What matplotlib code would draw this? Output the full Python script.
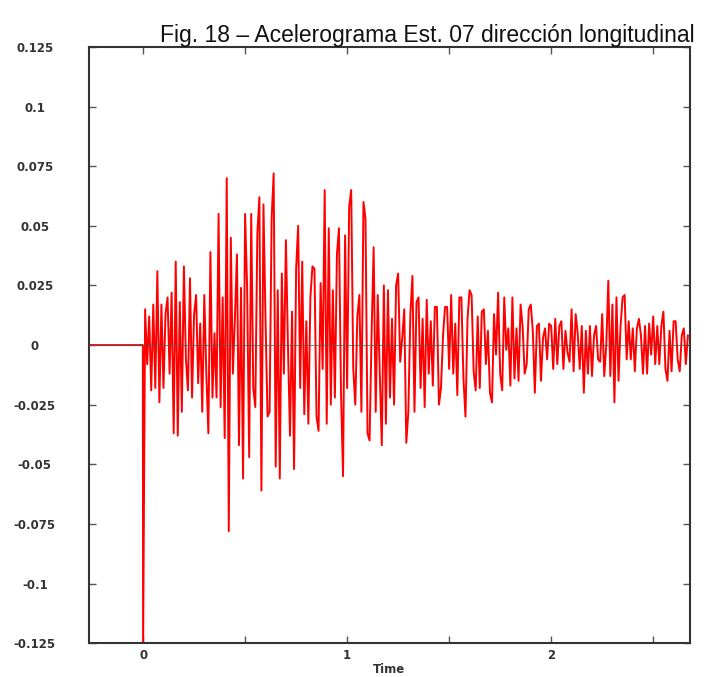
import numpy as np
import matplotlib.pyplot as plt

# sample step of the record (s)
dt = 0.01

# acceleration, in thousandths (0.001 units), from t = 0
acc_milli = [
    # 0.00 - 0.53
    -130, 15, -8, 12, -19, 17, -18, 31, -24, 17, -18, 13, 20, -12, 22, -37, 35, -38,
    18, -28, 33, -6, -19, 28, -22, 13, 21, -16, 9, -28, 21, -12, -37, 39, -22, 5,
    -22, 55, -26, 20, -39, 70, -78, 45, -12, 11, 38, -42, 24, -56, 55, 24, -47, 55,
    # 0.54 - 1.08
    -18, -26, 47, 62, -61, 59, 11, -30, -28, 53, 72, -51, 23, -56, 30, -12, 44, 0,
    -38, 14, -52, 32, 50, -18, 35, -29, 10, -33, 20, 33, 32, -30, -36, 26, -10, 65,
    -33, 49, -25, 23, -22, 38, 49, -20, -55, 46, -18, 58, 65, -10, -25, 12, 21, -28,
    60,
    # 1.09 - 1.65
    53, -37, -40, 5, 41, -28, 21, -12, -42, 25, -33, 23, -22, 11, -25, 25, 30, -7,
    3, 15, -41, -28, 13, 29, -28, 18, 20, -18, 11, -26, 19, -12, 10, -17, 16, 16,
    -25, -18, 4, 16, 16, -10, 21, -12, 9, -21, 20, 20, -14, -30, 11, 23, 21, -11,
    -19, 12, -18,
    # 1.66 - 2.20
    14, 15, -8, 6, -20, -24, 13, -4, 22, -12, -19, 20, -2, 7, -17, 20, -14, 7,
    -15, 17, 8, -12, -8, 15, 17, 6, -20, 8, 9, -15, 3, 7, -6, 9, 8, -10,
    11, -8, 8, 10, -10, 6, -3, -7, 15, -11, 13, 5, -10, 8, -20, 6, -12, 8,
    -13,
    # 2.21 - 2.67
    4, 8, -6, -7, 13, -13, 0, 27, -13, 17, -24, 20, -15, 8, 20, 21, -6, 10,
    -6, 7, -11, 7, 11, 4, -12, 8, -12, 9, -4, 12, -8, 8, -8, 8, 14, -10,
    -15, 6, -11, 10, 10, -6, -11, 4, 7, -8, 4,
]

# quiet part before the trigger
t_pre = [-0.3, -0.001]
acc_pre = [0.0, 0.0]

t_rec = np.arange(len(acc_milli)) * dt
acc_rec = np.array(acc_milli) / 1000.0

t = np.concatenate([t_pre, t_rec])
acc = np.concatenate([acc_pre, acc_rec])

yticks = [-0.125, -0.1, -0.075, -0.05, -0.025, 0, 0.025, 0.05, 0.075, 0.1, 0.125]
ytick_labels = ['-0.125', '-0.1', '-0.075', '-0.05', '-0.025', '0',
                '0.025', '0.05', '0.075', '0.1', '0.125']
xticks = [0, 0.5, 1, 1.5, 2, 2.5]
xtick_labels = ['0', '', '1', '', '2', '']

fig = plt.figure(figsize=(7.12, 6.77), dpi=100)
ax = fig.add_axes([0.125, 0.050, 0.844, 0.8806])

ax.plot(t, acc, color='#ff0000', lw=1.4, zorder=2)
ax.axhline(0, color='#555555', lw=0.8, alpha=0.7, zorder=3)

ax.set_xlim(-0.265, 2.68)
ax.set_ylim(-0.125, 0.125)

tick_font = dict(family='DejaVu Sans', size=8.5, weight='bold', color='#333333')
ax.set_yticks(yticks)
ax.set_yticklabels(ytick_labels, ha='center', **tick_font)
ax.set_xticks(xticks)
ax.set_xticklabels(xtick_labels, **tick_font)
ax.tick_params(axis='both', direction='in', length=5, width=1, color='#555555',
               top=True, right=True)
ax.tick_params(axis='y', pad=39)
ax.tick_params(axis='x', pad=4)

for s in ax.spines.values():
    s.set_color('#333333')
    s.set_linewidth(1.5)

ax.set_xlabel('Time', labelpad=1, **tick_font)

fig.text(0.600, 0.938, 'Fig. 18 \u2013 Acelerograma Est. 07 direcci\u00f3n longitudinal',
         ha='center', va='baseline', fontsize=16.5, family='Liberation Sans', color='#111111')

fig.savefig('out.png', dpi=100)
